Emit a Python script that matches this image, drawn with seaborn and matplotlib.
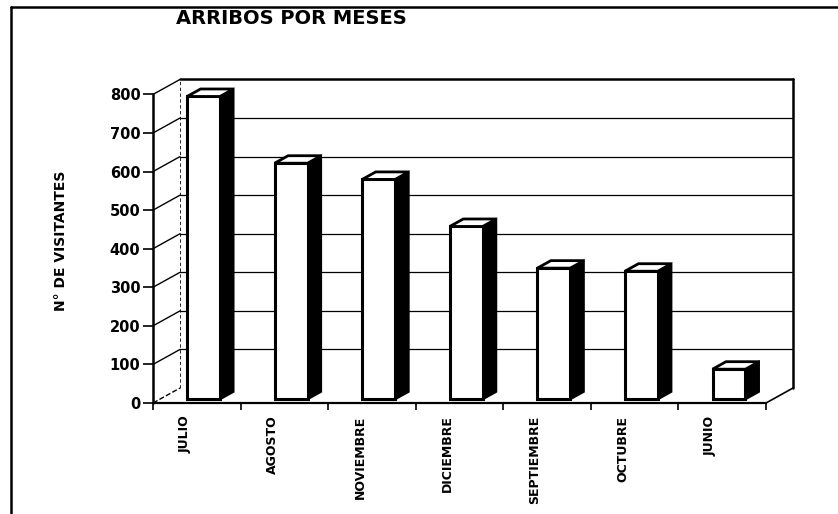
import matplotlib
matplotlib.use("Agg")
import matplotlib.pyplot as plt
import seaborn as sns
import pandas as pd
from matplotlib.patches import Polygon
from matplotlib.lines import Line2D
from matplotlib.transforms import ScaledTranslation

# ---- data ----
meses = ["JULIO", "AGOSTO", "NOVIEMBRE", "DICIEMBRE", "SEPTIEMBRE", "OCTUBRE", "JUNIO"]
visitantes = [785, 612, 570, 448, 340, 332, 78]
y_ticks = [0, 100, 200, 300, 400, 500, 600, 700, 800]
titulo = "ARRIBOS POR MESES"
eje_y = "N° DE VISITANTES"

sns.set_theme(style="white")
plt.rcParams["font.family"] = ["Liberation Sans", "DejaVu Sans"]
plt.rcParams["text.color"] = "black"
plt.rcParams["xtick.color"] = "black"
plt.rcParams["ytick.color"] = "black"

W, H = 838, 514
fig = plt.figure(figsize=(W / 100, H / 100), dpi=100)

# axes pixel geometry
x0, x1 = 153, 793
y0, y1 = 403, 79
ax = fig.add_axes([x0 / W, 1 - y0 / H, (x1 - x0) / W, (y0 - y1) / H])

DX = 0.308   # depth offset in category units
DY = 38.8    # depth offset in value units

df = pd.DataFrame({"mes": meses, "n": visitantes})
bw = 0.376
sns.barplot(data=df, x="mes", y="n", order=meses, color="white",
            width=bw, edgecolor="black", linewidth=2.2, saturation=1,
            ax=ax, zorder=5)
ax.set_xlim(-0.5, 6.5 + DX)
ax.set_ylim(0, 840)
for s in ax.spines.values():
    s.set_visible(False)

f = 0.25     # front plane of bars within depth
d = 0.5      # bar depth fraction
for p in list(ax.patches):
    p.set_x(p.get_x() + f * DX)
    p.set_y(f * DY)
    p.set_facecolor("white")
    xl = p.get_x()
    xr = xl + p.get_width()
    yb = p.get_y()
    yt = yb + p.get_height()
    ddx, ddy = d * DX, d * DY
    side = Polygon([(xr, yb), (xr + ddx, yb + ddy), (xr + ddx, yt + ddy), (xr, yt)],
                   closed=True, facecolor="black", edgecolor="black", lw=1.5, zorder=4)
    top = Polygon([(xl, yt), (xl + ddx, yt + ddy), (xr + ddx, yt + ddy), (xr, yt)],
                  closed=True, facecolor="white", edgecolor="black", lw=2.0, zorder=6)
    ax.add_patch(side)
    ax.add_patch(top)

# 3D frame: back wall gridlines and diagonals
xb = -0.5 + DX
xe = 6.5 + DX
for v in y_ticks:
    if 0 < v < 800:
        ax.plot([xb, xe], [v + DY, v + DY], color="black", lw=0.9, zorder=1)
    ls = "--" if v == 0 else "-"
    ax.plot([-0.5, xb], [v, v + DY], color="black", lw=1.0, ls=ls, zorder=1)
ax.plot([xb, xe], [800 + DY, 800 + DY], color="black", lw=1.8, zorder=1, clip_on=False)
ax.plot([xb, xb], [DY, 800 + DY], color="black", lw=0.6, ls=(0, (4, 3)), zorder=1)
ax.plot([xe, xe], [DY, 800 + DY], color="black", lw=1.8, zorder=1, clip_on=False)
ax.plot([6.5, xe], [0, DY], color="black", lw=1.2, zorder=1, clip_on=False)
ax.plot([-0.5, 6.5], [0, 0], color="black", lw=1.6, zorder=7, clip_on=False)
ax.plot([-0.5, -0.5], [0, 800], color="black", lw=1.8, zorder=7, clip_on=False)

# ticks
ax.set_yticks(y_ticks)
ax.set_yticklabels([str(v) for v in y_ticks])
ax.tick_params(axis="y", which="major", left=True, length=7, width=1.2,
               color="black", pad=2, labelsize=10.5, labelcolor="black")
for lab in ax.get_yticklabels():
    lab.set_fontweight("bold")
    lab.set_family(["DejaVu Sans"])

ax.set_xticks(range(len(meses)))
ax.set_xticklabels(meses, rotation=90, va="top", ha="center",
                   fontsize=9, fontweight="bold", color="black",
                   family=["Liberation Sans Narrow", "DejaVu Sans"])
ax.tick_params(axis="x", which="major", length=0, pad=9)
ax.set_xticks([i - 0.5 for i in range(len(meses) + 1)], minor=True)
ax.tick_params(axis="x", which="minor", bottom=True, length=5, width=1.2, color="black")
off = ScaledTranslation(-0.12, 0, fig.dpi_scale_trans)
for lab in ax.get_xticklabels():
    lab.set_transform(lab.get_transform() + off)
ax.set_xlabel("")
ax.set_ylabel("")

# labels
fig.text(291 / W, 1 - 19 / H, titulo, ha="center", va="center", color="black",
         fontsize=14, fontweight="bold", family=["DejaVu Sans"])
fig.text(61 / W, 1 - 241 / H, eje_y, rotation=90, ha="center", va="center",
         fontsize=10, fontweight="bold", color="black",
         family=["Liberation Sans Narrow", "DejaVu Sans"])

# outer border
fig.add_artist(Line2D([11 / W, 11 / W], [0, 1 - 7 / H], color="black", lw=1.8))
fig.add_artist(Line2D([11 / W, 1], [1 - 7 / H, 1 - 7 / H], color="black", lw=1.8))

fig.savefig("out.png", dpi=100)
